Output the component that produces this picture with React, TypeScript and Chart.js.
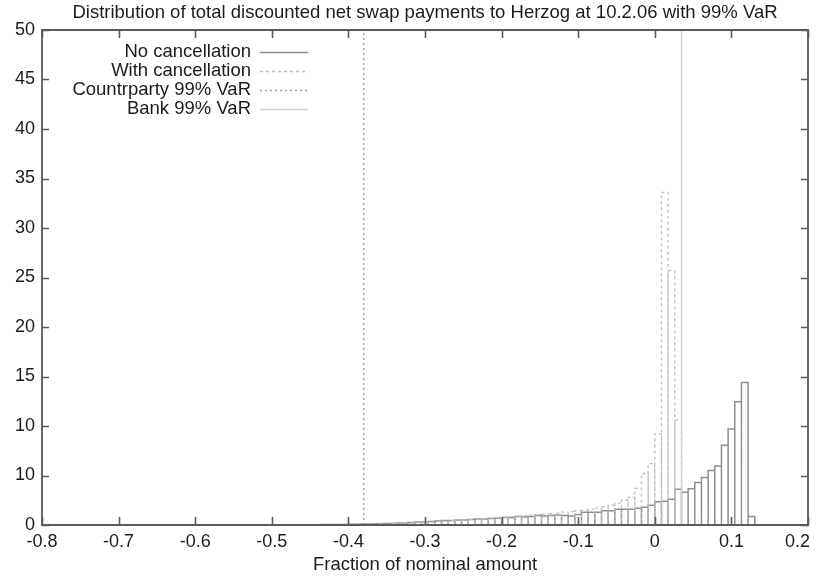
import { useEffect, useRef } from "react";
import { Chart, registerables } from "chart.js";

Chart.register(...registerables);

const TITLE = "Distribution of total discounted net swap payments to Herzog at 10.2.06 with 99% VaR";
const X_TITLE = "Fraction of nominal amount";
const xTickLabels = ["-0.8", "-0.7", "-0.6", "-0.5", "-0.4", "-0.3", "-0.2", "-0.1", "0", "0.1", "0.2"];
const yTickLabels = ["0", "10", "10", "15", "20", "25", "30", "35", "40", "45", "50"];
const seriesNames = ["No cancellation", "With cancellation", "Countrparty 99% VaR", "Bank 99% VaR"];

// Histogram bins: bin i covers [(FIRST_BIN + i) * BIN_WIDTH, (FIRST_BIN + i + 1) * BIN_WIDTH)
const BIN_WIDTH = 0.0087;
const FIRST_BIN = -55;

const noCancellation = [
  0.02, 0.02, 0.02, 0.03, 0.03, 0.04, 0.04, 0.05, 0.06, 0.07,
  0.08, 0.1, 0.1, 0.12, 0.15, 0.15, 0.2, 0.2, 0.25, 0.3,
  0.3, 0.35, 0.4, 0.45, 0.45, 0.5, 0.5, 0.55, 0.6, 0.6,
  0.65, 0.7, 0.75, 0.75, 0.85, 0.8, 0.85, 0.95, 0.9, 0.95,
  1.0, 0.95, 0.9, 1.05, 1.3, 1.3, 1.3, 1.45, 1.45, 1.6,
  1.6, 1.6, 1.7, 1.8, 2.0, 2.35, 2.4, 2.6, 3.6, 3.3,
  3.65, 4.3, 4.8, 5.5, 5.95, 8.05, 9.7, 12.45, 14.4, 0.85,
];

const withCancellation = [
  0.01, 0.01, 0.02, 0.02, 0.02, 0.03, 0.04, 0.04, 0.05, 0.06,
  0.07, 0.08, 0.1, 0.1, 0.12, 0.15, 0.15, 0.2, 0.2, 0.25,
  0.3, 0.3, 0.35, 0.4, 0.45, 0.5, 0.5, 0.55, 0.6, 0.65,
  0.7, 0.75, 0.8, 0.85, 0.9, 0.95, 1.0, 1.05, 1.1, 1.15,
  1.2, 1.3, 1.35, 1.45, 1.5, 1.6, 1.7, 1.85, 2.0, 2.2,
  2.5, 2.8, 3.7, 5.2, 6.2, 9.2, 33.6, 25.7, 10.6, 0,
  0, 0, 0, 0, 0, 0, 0, 0, 0, 0,
];

const counterpartyVaR = -0.38;
const bankVaR = 0.035;

const Y_MIN = 0;
const Y_MAX = 50;

function outline(values: number[]) {
  const pts: { x: number; y: number }[] = [];
  values.forEach((v, i) => {
    const left = (FIRST_BIN + i) * BIN_WIDTH;
    const right = left + BIN_WIDTH;
    pts.push({ x: left, y: 0 }, { x: left, y: v }, { x: right, y: v }, { x: right, y: 0 });
  });
  return pts;
}

const FONT = "'Liberation Sans', Arial, Helvetica, sans-serif";
const FONT_SIZE = 18.5;
const TICK_FONT_SIZE = 18;
const TEXT_COLOR = "#1c1c1c";
const AXIS_COLOR = "#5a5a5a";

const framePlugin = {
  id: "gnuplotFrame",
  beforeDraw(chart: any) {
    // keep the last x tick label inside the canvas (right-aligned to the frame)
    const x = chart.scales.x;
    const items = x.getLabelItems();
    const last = items[items.length - 1];
    if (last && last.options && last.options.translation) {
      last.options.textAlign = "right";
      last.options.translation[0] = chart.chartArea.right + 2;
    }
  },
  afterDatasetsDraw(chart: any) {
    const { ctx, chartArea: a, scales } = chart;
    const x = scales.x;
    const y = scales.y;
    ctx.save();
    ctx.strokeStyle = AXIS_COLOR;
    ctx.lineWidth = 1.8;
    ctx.beginPath();
    ctx.rect(a.left, a.top, a.right - a.left, a.bottom - a.top);
    ctx.stroke();
    ctx.lineWidth = 1.6;
    ctx.beginPath();
    x.ticks.forEach((t: any) => {
      const px = Math.round(x.getPixelForValue(t.value)) + 0.5;
      ctx.moveTo(px, a.bottom);
      ctx.lineTo(px, a.bottom - 8);
      ctx.moveTo(px, a.top);
      ctx.lineTo(px, a.top + 8);
    });
    y.ticks.forEach((t: any) => {
      const py = Math.round(y.getPixelForValue(t.value)) + 0.5;
      ctx.moveTo(a.left, py);
      ctx.lineTo(a.left + 7, py);
      ctx.moveTo(a.right, py);
      ctx.lineTo(a.right - 7, py);
    });
    ctx.stroke();
    ctx.restore();
  },
  afterDraw(chart: any) {
    const { ctx, chartArea: a } = chart;
    ctx.save();
    ctx.fillStyle = TEXT_COLOR;
    ctx.font = `${FONT_SIZE}px ${FONT}`;
    ctx.textAlign = "center";
    ctx.textBaseline = "middle";
    ctx.fillText(TITLE, (a.left + a.right) / 2, 12.5);

    // legend (text right-aligned, sample to the right)
    const textRight = a.left + 209;
    const sampleL = a.left + 218;
    const sampleR = a.left + 266;
    chart.data.datasets.forEach((ds: any, i: number) => {
      const cy = a.top + 22 + i * 19;
      ctx.fillStyle = TEXT_COLOR;
      ctx.textAlign = "right";
      ctx.fillText(ds.label, textRight, cy);
      ctx.beginPath();
      ctx.strokeStyle = ds.borderColor;
      ctx.lineWidth = ds.borderWidth;
      ctx.setLineDash(ds.borderDash || []);
      ctx.moveTo(sampleL, cy + 0.5);
      ctx.lineTo(sampleR, cy + 0.5);
      ctx.stroke();
      ctx.setLineDash([]);
    });
    ctx.restore();
  },
};

export default function App() {
  const ref = useRef<HTMLCanvasElement | null>(null);

  useEffect(() => {
    if (!ref.current) return;
    Chart.defaults.font.family = FONT;
    Chart.defaults.font.size = TICK_FONT_SIZE;
    Chart.defaults.color = TEXT_COLOR;

    const chart = new Chart(ref.current, {
      type: "line",
      data: {
        datasets: [
          {
            label: seriesNames[0],
            data: outline(noCancellation),
            borderColor: "#8e8e8e",
            borderWidth: 1.5,
            pointRadius: 0,
            tension: 0,
            fill: false,
            order: 4,
          },
          {
            label: seriesNames[1],
            data: outline(withCancellation),
            borderColor: "#bdbdbd",
            borderWidth: 1.3,
            borderDash: [3, 3],
            pointRadius: 0,
            tension: 0,
            fill: false,
            order: 3,
          },
          {
            label: seriesNames[2],
            data: [
              { x: counterpartyVaR, y: Y_MIN },
              { x: counterpartyVaR, y: Y_MAX },
            ],
            borderColor: "#a0a0a0",
            borderWidth: 1.6,
            borderDash: [2, 3],
            pointRadius: 0,
            fill: false,
            order: 2,
          },
          {
            label: seriesNames[3],
            data: [
              { x: bankVaR, y: Y_MIN },
              { x: bankVaR, y: Y_MAX },
            ],
            borderColor: "#d2d2d2",
            borderWidth: 1.5,
            pointRadius: 0,
            fill: false,
            order: 1,
          },
        ],
      } as any,
      options: {
        responsive: false,
        animation: false,
        devicePixelRatio: 1,
        layout: { padding: { top: 30, right: 11, left: 0, bottom: 0 } },
        plugins: {
          legend: { display: false },
          title: { display: false },
          tooltip: { enabled: false },
        },
        scales: {
          x: {
            type: "linear",
            min: -0.8,
            max: 0.2,
            grid: { display: false, drawTicks: false },
            border: { display: false },
            ticks: {
              stepSize: 0.1,
              padding: 6,
              maxRotation: 0,
              autoSkip: false,
              color: TEXT_COLOR,
              callback: (_v: any, i: number) => xTickLabels[i] ?? "",
            },
            title: {
              display: true,
              text: X_TITLE,
              color: TEXT_COLOR,
              font: { size: FONT_SIZE },
              padding: { top: 0, bottom: 2 },
            },
            afterFit: (s: any) => {
              s.height = 53;
              s.paddingLeft = 0;
              s.paddingRight = 0;
            },
          },
          y: {
            type: "linear",
            min: Y_MIN,
            max: Y_MAX,
            grid: { display: false, drawTicks: false },
            border: { display: false },
            ticks: {
              stepSize: 5,
              padding: 7,
              color: TEXT_COLOR,
              callback: (_v: any, i: number) => yTickLabels[i] ?? "",
            },
            afterFit: (s: any) => {
              s.width = 42;
              s.paddingTop = 0;
              s.paddingBottom = 0;
            },
          },
        },
      } as any,
      plugins: [framePlugin],
    });
    return () => chart.destroy();
  }, []);

  return (
    <div style={{ position: "absolute", left: 0, top: 0, width: 819, height: 578, background: "#fff" }}>
      <canvas ref={ref} width={819} height={578} style={{ display: "block" }} />
    </div>
  );
}
